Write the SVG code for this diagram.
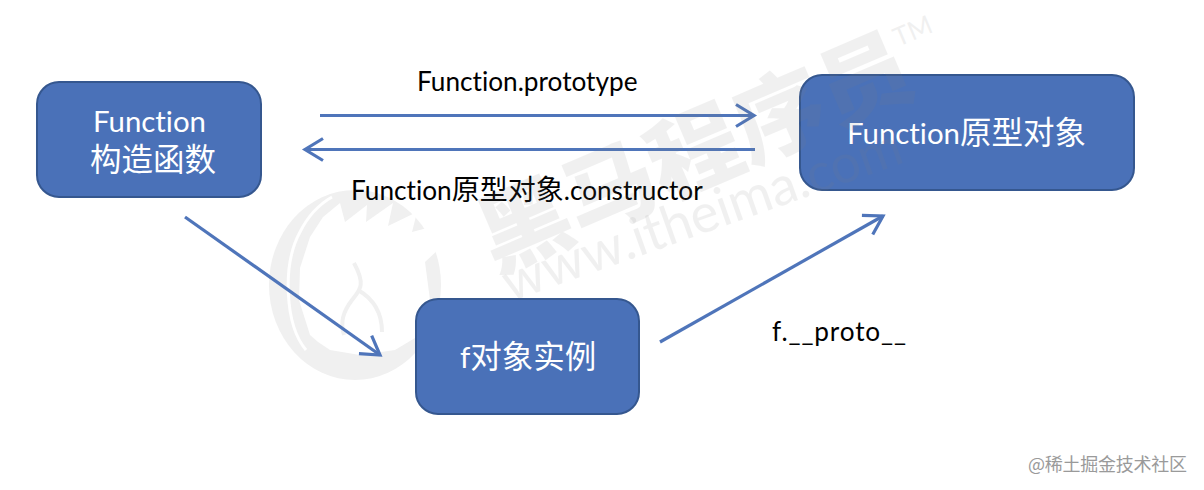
<svg xmlns="http://www.w3.org/2000/svg" width="1204" height="490" viewBox="0 0 1204 490">
<style>
text{font-family:"Lato","Noto Sans CJK SC",sans-serif;font-variant-ligatures:none}
.n{fill:#4a71b8;stroke:#35578f;stroke-width:2}
.w{fill:#fff;font-size:29.4px}
.wz{font-size:31.5px}
.k{fill:#000;font-size:26.2px}
.kz{font-size:28px}
.c{fill:none;stroke:#4f75ba;stroke-width:3.2}
.wm{fill:#808080;opacity:.11}
</style>
<defs><marker id="a" markerUnits="userSpaceOnUse" markerWidth="26" markerHeight="28" refX="21" refY="12" orient="auto" overflow="visible"><path d="M3 1L21 12L3 23" fill="none" stroke="#4f75ba" stroke-width="3.2"/></marker></defs>
<rect width="1204" height="490" fill="#fff"/>
<g id="watermark-logo">
<ellipse cx="355" cy="285" rx="86" ry="95" fill="#f0f0f0"/>
<path d="M310 335L299 300L300 268L310 237L323 217L340 203L345 222L367 205L366 222L393 203L388 226L417 212L412 232L450 222L438 250L425 262L430 300L420 335L395 350L360 355L330 350L318 342Z" fill="#fff"/>
<path d="M306 350C285 325 282 265 300 232C307 218 318 205 332 197" fill="none" stroke="#fff" stroke-width="3"/>
<path d="M354 263C366 285 360 290 352 300C343 312 340 322 344 335M358 290C372 298 382 312 382 332" fill="none" stroke="#f0f0f0" stroke-width="4"/>
</g>
<g id="connectors">
<path class="c" d="M320 115.500H754" marker-end="url(#a)"/>
<path class="c" d="M755 149.500H305" marker-end="url(#a)"/>
<path class="c" d="M185 217L380 355" marker-end="url(#a)"/>
<path class="c" d="M660 342L883 216" marker-end="url(#a)"/>
</g>
<g id="node-function"><rect class="n" x="37" y="82" width="224" height="115" rx="22"/><text class="w" x="93" y="132">Function</text><text class="w wz" x="90" y="171">构造函数</text></g>
<g id="node-prototype"><rect class="n" x="800" y="75" width="334" height="115" rx="22"/><text class="w" x="847" y="144">Function<tspan class="wz">原型对象</tspan></text></g>
<g id="node-instance"><rect class="n" x="416" y="299" width="223" height="115" rx="22"/><text class="w" x="460" y="368">f<tspan class="wz">对象实例</tspan></text></g>
<text class="k" x="417" y="91">Function.prototype</text>
<text class="k" x="351" y="200">Function<tspan class="kz">原型对象</tspan>.constructor</text>
<text class="k" x="772" y="341" textLength="134">f.__proto__</text>
<g id="watermark-text">
<text class="wm" transform="translate(495 273) rotate(-23.200)" font-size="90" font-weight="900" textLength="462" lengthAdjust="spacingAndGlyphs">黑马程序员</text>
<text class="wm" transform="translate(510 302) rotate(-19.500)" font-size="54" textLength="420" lengthAdjust="spacingAndGlyphs">www.itheima.com</text>
<text class="wm" transform="translate(898 47) rotate(-23)" font-size="26">TM</text>
</g>
<text x="1028" y="471" font-size="18" fill="#9a9a9a" textLength="159" style="font-family:'Noto Sans CJK SC',sans-serif">@稀土掘金技术社区</text>
</svg>
